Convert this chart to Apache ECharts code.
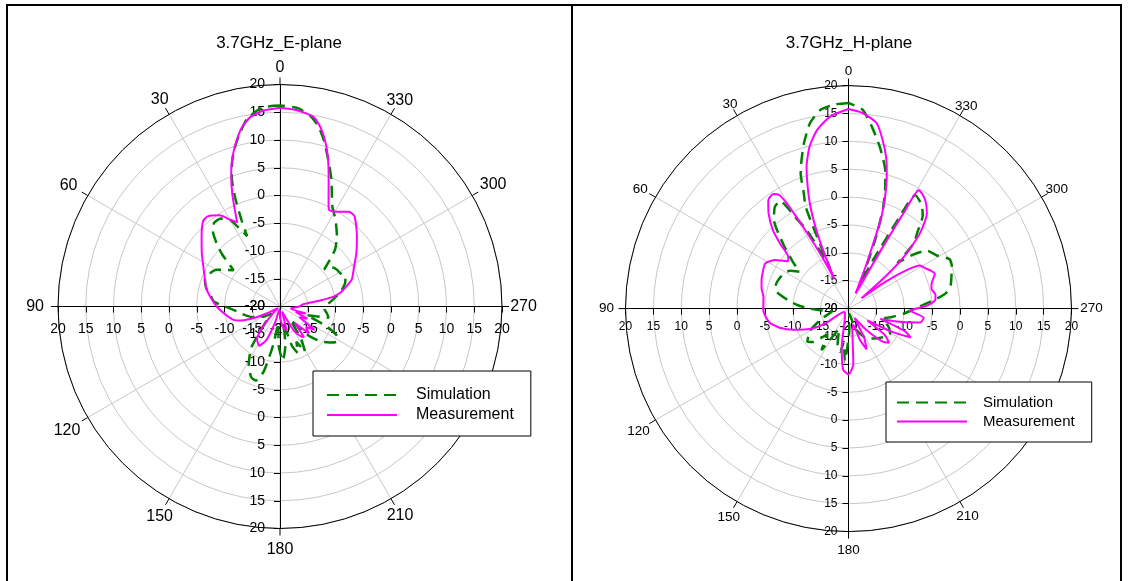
<!DOCTYPE html>
<html><head><meta charset="utf-8">
<script src="https://cdn.jsdelivr.net/npm/echarts@6/dist/echarts.min.js"></script>
<style>html,body{margin:0;padding:0;background:#fff}#c{width:1130px;height:581px}</style>
</head><body><div id="c"></div>
<script>
// ---------- data (dB vs angle in degrees) ----------
const titles = ['3.7GHz_E-plane', '3.7GHz_H-plane'];
const seriesNames = ['Simulation', 'Measurement'];
const radialMin = -20, radialMax = 20, radialStep = 5;
const angleTicks = [0, 30, 60, 90, 120, 150, 180, 210, 240, 270, 300, 330];

// E-plane, Measurement
const eMeasAng = [0,5,9,12,15,18,20.5,23,25,27,30,33.5,38.5,42,48,55.5,64,70,76,82,90,98,106,110,114,118,125,135,140,145,152,158,163,170,180,190,196,202,210,215,218,222,227,232,236,241,246,250,255,260,265,270,275.5,278.5,280.5,283,286,290.5,298.5,305,312.5,320.5,324,329,333,335,338,341,344,347,350,355,360];
const eMeas = [15.8,15.4,14.5,13.0,10.6,7.9,5.1,2.0,-0.7,-3.0,-1.9,-0.3,0.8,0.7,-1.0,-2.9,-4.7,-5.6,-6.3,-7.3,-8.6,-10.0,-11.3,-12.6,-15.0,-17.5,-19.5,-18,-15,-12.8,-12.0,-13.5,-17,-19.5,-18,-16,-15.6,-19,-15,-13.4,-13.0,-16,-12.9,-14,-12.5,-16,-14.6,-17,-15.2,-18,-17.5,-16.5,-15.8,-12.7,-10.2,-8.8,-7.8,-6.2,-4.8,-3.2,-1.2,1.1,1.1,-0.1,-0.5,0.7,3.4,6.8,10.2,12.9,14.7,15.5,15.8];

// E-plane, Simulation
const eSimAng = [0,5,10,15,18,20.5,22.5,24,25,27,30,34,38,41,45,48,52,55,60,65,70,76,82,86,90,96,101,110,122,130,138,145,152,158,162,166,170,174,178,183,188,192,197,201,205,209,213,218,224,229,234,238,242,247,252,257,262,267,272,277,283,290,295,299,303,306,310,313,316,321,327.5,332.5,338,342,345,348,351,355,360];
const eSim = [16.2,16.0,14.3,10.5,7.8,4.8,1.0,-3.0,-6.0,-4.5,-2.0,-0.9,-0.8,-1.4,-3.8,-6.0,-9.4,-8.5,-6.8,-6.0,-5.6,-6.3,-7.5,-8.1,-10.1,-12.1,-13.0,-14.5,-16.6,-18,-16,-11,-8,-6.2,-6.0,-8,-13,-17,-13,-10.2,-13,-17,-12.5,-11,-13,-10.7,-13,-17,-13,-10.5,-9.0,-8.0,-8.3,-11,-15,-11.0,-11.5,-12.0,-11.5,-10.5,-8.9,-7.5,-7.0,-7.6,-7.8,-8.1,-9.6,-7.8,-5.7,-3.7,-1.4,0.4,4.7,8,10.8,13.2,14.8,15.9,16.2];

// H-plane, Measurement
const hMeasAng = [0,5.5,10,13.5,16.5,18.5,20.5,22,23.5,24.5,25.5,27.3,29,30.4,31.3,33.3,36.5,40,44,46.5,49.5,52,56.5,61.5,67,72,77,82,91,100,105.5,111,118,123,127,140,155,165,170,175,180,185,190,196,200,204,208,213,220,226,230,234,238,242,245,248,252,256,259,263,266,268,272,275.5,279,283.5,287,292,295,298,301,303.5,306,308.5,311,313.5,316.5,320.5,324,327,329.3,330,331,332.5,335,337.8,339.2,340,341,342.3,343.5,345,347.5,351.3,356,360];
const hMeas = [15.8,14.6,12.5,9.9,6.5,3.1,-0.5,-4.1,-8.5,-12,-14,-8.9,-3.2,1.9,3.8,4.6,4.2,2.3,-0.5,-3.1,-5.8,-6.2,-4.2,-3.0,-3.3,-3.6,-4.0,-4.6,-4.7,-5.6,-7.2,-9.4,-12.2,-15.4,-19,-19,-18.5,-17,-13,-9,-8.2,-10,-16,-17,-14,-12,-14,-18,-15,-11.5,-10.5,-12,-16,-11,-7.7,-9,-14,-10,-6.9,-6.4,-8,-9,-6,-4.4,-4.2,-4.7,-4.4,-3.3,-3.8,-4.5,-5.0,-7.5,-12,-17,-11.1,-5.6,-1.4,2.1,3.6,4.4,4.7,0,-8,-14.5,-17,-11.9,-7.6,-3.4,-0.7,1.9,4.1,6.5,9.7,13.6,15.2,15.8];

// H-plane, Simulation
const hSimAng = [0,4,8,11.7,15,17.5,19.5,21,22.8,23.5,24.5,26,28,30,32.5,36,40,45.5,50,53,57,60.5,66,72,77,82,86,90,94,100,110,120,129,133,140,147,155,164,169,172,176,182,190,200,210,220,230,238,245,254,259,265,270,276.5,279,283,287,292,296,301,306.5,310,313,315,318,321.5,325,329.5,331,333,335.5,337,339,341,343,345,349,353,356,360];
const hSim = [16.9,16.7,16.0,14.0,10.8,8.0,5.7,2.5,-0.2,-5,-12,-9,-4,-1.4,2.9,2.5,0.8,-3.7,-7,-9,-7.5,-6.9,-6.5,-6.3,-6.8,-9,-10.8,-13,-15.2,-17,-15,-12,-10.5,-11.2,-14,-11.1,-16,-12.8,-12.1,-14,-10.5,-16,-19,-16,-14,-13,-12,-11.2,-12,-13.5,-12.1,-10,-8.1,-4.0,-2.3,-1.2,-0.7,0,0.2,-1.5,-2.5,-5,-8,-3.5,-1.5,1.4,2.8,3.6,-2,-9.8,-15,-12,-6,-1,2.5,5.5,9.5,13.2,15.8,16.9];

// ---------- layout ----------
const FONT = '"Liberation Sans", Arial, sans-serif';
const panels = [
  {cx: 280, cy: 306.5, r: 222, title: titles[0], tx: 279, ty: 34.5,
   angleFont: 16, radFont: 14, radMarginV: 15, radMarginH: 15.5,
   labelDist: [240.7, 240.6, 244.1, 244.9, 245.9, 240.7, 241.5, 240.1, 243, 243.5, 246.1, 239.5],
   legend: {left: 313, top: 371, font: 16, padding: [16, 17, 13, 13], textPad: 14, gap: 4},
   sim: [eSimAng, eSim], meas: [eMeasAng, eMeas]},
  {cx: 848.5, cy: 308.6, r: 223, title: titles[1], tx: 849, ty: 34.5,
   angleFont: 13.5, radFont: 12, radMarginV: 11, radMarginH: 12,
   labelDist: [238.2, 236.9, 240.5, 242, 242.4, 239.3, 239.8, 237.9, 240, 242.9, 240.4, 235.6],
   legend: {left: 886, top: 382, font: 15, padding: [13, 17, 13, 10], textPad: 11, gap: 4},
   sim: [hSimAng, hSim], meas: [hMeasAng, hMeas]}
];
const VBIAS = 1.5; // optical centring of digits
const SMOOTH = 0.2;
const toData = (ang, val) => ang.map((a, i) => [val[i], a]);

const polar = [], angleAxis = [], radiusAxis = [], series = [], title = [], legend = [];
const dirs = [90, 180, 270, 0];
panels.forEach((p) => {
  const center = [p.cx, p.cy];
  const mainIdx = polar.length;
  dirs.forEach((dir, k) => {
    const idx = polar.length;
    const main = k === 0;
    polar.push({center, radius: p.r});
    angleAxis.push({
      polarIndex: idx, type: 'value', min: 0, max: 360, interval: 30,
      startAngle: dir, clockwise: false,
      axisLine: {show: main, lineStyle: {color: '#000', width: 1}},
      axisTick: {show: main, length: 7, lineStyle: {color: '#000'}},
      axisLabel: {show: false},
      splitLine: {show: main, lineStyle: {color: '#c8c8c8', width: 1}}
    });
    const flip = (k >= 2);
    const horiz = (k === 1 || k === 3);
    const m = horiz ? p.radMarginH : p.radMarginV;
    const lab = {show: true, fontSize: p.radFont, color: '#000', fontFamily: FONT, margin: flip ? -m : m};
    if (k === 2) lab.align = 'right';
    if (k === 3) lab.verticalAlign = 'top';
    radiusAxis.push({
      polarIndex: idx, type: 'value', min: radialMin, max: radialMax, interval: radialStep,
      axisLine: {show: true, lineStyle: {color: '#000', width: 1}},
      axisTick: {show: true, length: flip ? -6 : 6, lineStyle: {color: '#000'}},
      axisLabel: lab,
      splitLine: {show: main, lineStyle: {color: '#c8c8c8', width: 1}}
    });
  });
  angleTicks.forEach((v, li) => {
    const idx = polar.length;
    const th = v * Math.PI / 180;
    const dx = -Math.sin(th), dy = -Math.cos(th);
    const align = Math.abs(dx) < 0.3 ? 'center' : (dx > 0 ? 'left' : 'right');
    const valign = Math.abs(dy) < 0.3 ? 'middle' : (dy > 0 ? 'top' : 'bottom');
    const hw = String(v).length * 0.556 * p.angleFont / 2, hh = p.angleFont / 2;
    let pad;
    if (valign === 'top') pad = [-(hh - VBIAS), 0, 0, 0];
    else if (valign === 'bottom') pad = [0, 0, -(hh + VBIAS), 0];
    else pad = [0, 0, -2 * VBIAS, 0];
    if (align === 'right') pad[1] = -hw;
    if (align === 'left') pad[3] = -hw;
    polar.push({center, radius: p.r});
    angleAxis.push({
      polarIndex: idx, type: 'value', min: 0, max: 360, interval: 30,
      startAngle: 90, clockwise: false,
      axisLine: {show: false}, axisTick: {show: false}, splitLine: {show: false},
      axisLabel: {show: true, margin: p.labelDist[li] - p.r, fontSize: p.angleFont, color: '#000',
                  fontFamily: FONT, padding: pad,
                  formatter: (val) => (Math.abs(val - v) < 1e-6 ? String(v) : '')}
    });
    radiusAxis.push({polarIndex: idx, type: 'value', min: radialMin, max: radialMax, show: false});
  });
  series.push({
    name: seriesNames[0], type: 'line', coordinateSystem: 'polar', polarIndex: mainIdx,
    data: toData(p.sim[0], p.sim[1]), symbol: 'none', showSymbol: false, z: 3, smooth: SMOOTH,
    lineStyle: {color: '#008000', width: 2.5, type: [12, 7]}, itemStyle: {color: '#008000'}
  });
  series.push({
    name: seriesNames[1], type: 'line', coordinateSystem: 'polar', polarIndex: mainIdx,
    data: toData(p.meas[0], p.meas[1]), symbol: 'none', showSymbol: false, z: 4, smooth: SMOOTH,
    lineStyle: {color: '#ff00ff', width: 2}, itemStyle: {color: '#ff00ff'}
  });
  title.push({
    text: p.title, left: p.tx, top: p.ty, textAlign: 'center', padding: 0,
    textStyle: {fontSize: 17, fontWeight: 'normal', color: '#000', fontFamily: FONT}
  });
  const L = p.legend;
  legend.push({
    data: seriesNames, orient: 'vertical', left: L.left, top: L.top, zlevel: 1, z: 20,
    padding: L.padding, itemWidth: 70, itemHeight: 14, itemGap: L.gap,
    backgroundColor: '#fff', borderColor: '#000', borderWidth: 1, borderRadius: 0,
    selectedMode: false, itemStyle: {opacity: 0},
    textStyle: {fontSize: L.font, color: '#000', fontFamily: FONT, padding: [0, 0, 0, L.textPad]}
  });
});

const chart = echarts.init(document.getElementById('c'), null, {renderer: 'canvas'});
chart.setOption({
  animation: false,
  backgroundColor: '#fff',
  title, legend, polar, angleAxis, radiusAxis, series,
  graphic: [
    {type: 'polyline', shape: {points: [[7, 585], [7, 5], [1121, 5], [1121, 585]]},
     style: {stroke: '#000', lineWidth: 2, fill: null}},
    {type: 'line', shape: {x1: 572, y1: 5, x2: 572, y2: 585}, style: {stroke: '#000', lineWidth: 2}}
  ]
});
</script>
</body></html>
